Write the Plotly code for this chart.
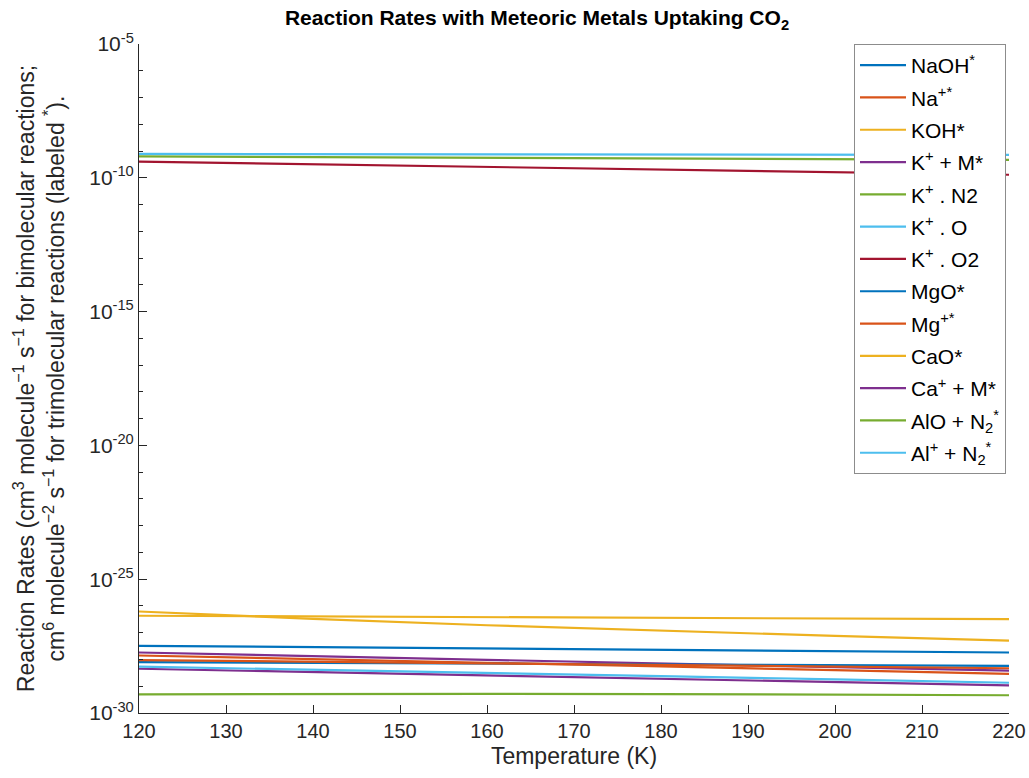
import plotly.graph_objects as go

# Temperatures (K) at which rates were sampled
temperature = [120, 140, 160, 180, 200, 220]

# Rate coefficients for each reaction
naoh = [3.24e-28, 2.88e-28, 2.57e-28, 2.29e-28, 2.04e-28, 1.82e-28]
na_plus = [1.41e-28, 1.05e-28, 7.6e-29, 5.5e-29, 4.0e-29, 2.9e-29]
koh = [6.2e-27, 3.3e-27, 1.9e-27, 1.17e-27, 7.6e-28, 5.1e-28]
k_plus_m = [1.82e-28, 1.32e-28, 9.5e-29, 7.1e-29, 5.1e-29, 3.8e-29]
k_plus_n2 = [6.3e-10, 6.0e-10, 5.6e-10, 5.4e-10, 5.0e-10, 4.7e-10]
k_plus_o = [7.8e-10, 7.6e-10, 7.5e-10, 7.4e-10, 7.3e-10, 7.2e-10]
k_plus_o2 = [4.0e-10, 3.2e-10, 2.5e-10, 2.0e-10, 1.6e-10, 1.3e-10]
mgo = [7.9e-29, 7.4e-29, 6.9e-29, 6.5e-29, 6.2e-29, 5.8e-29]
mg_plus = [9.5e-29, 8.3e-29, 7.2e-29, 6.2e-29, 5.4e-29, 4.7e-29]
cao = [4.3e-27, 4.1e-27, 3.9e-27, 3.6e-27, 3.5e-27, 3.2e-27]
ca_plus_m = [4.5e-29, 3.4e-29, 2.5e-29, 1.9e-29, 1.45e-29, 1.07e-29]
alo_n2 = [5.0e-30, 5.2e-30, 5.2e-30, 5.1e-30, 4.9e-30, 4.6e-30]
al_plus_n2 = [5.4e-29, 4.2e-29, 3.2e-29, 2.4e-29, 1.8e-29, 1.35e-29]

series_names = [
    "NaOH<sup>*</sup>",
    "Na<sup>+*</sup>",
    "KOH*",
    "K<sup>+</sup> + M*",
    "K<sup>+</sup> . N2",
    "K<sup>+</sup> . O",
    "K<sup>+</sup> . O2",
    "MgO*",
    "Mg<sup>+*</sup>",
    "CaO*",
    "Ca<sup>+</sup> + M*",
    "AlO + N<sub>2</sub><sup>*</sup>",
    "Al<sup>+</sup> + N<sub>2</sub><sup>*</sup>",
]
series_values = [naoh, na_plus, koh, k_plus_m, k_plus_n2, k_plus_o, k_plus_o2,
                 mgo, mg_plus, cao, ca_plus_m, alo_n2, al_plus_n2]

# Default MATLAB colour order, cycled
palette = ["#0072BD", "#D95319", "#EDB120", "#7E2F8E", "#77AC30", "#4DBEEE", "#A2142F"]

x_ticks = [120, 130, 140, 150, 160, 170, 180, 190, 200, 210, 220]
y_major = [-30, -25, -20, -15, -10, -5]
y_minor = list(range(-30, -4))

fig = go.Figure()
for i, (name, vals) in enumerate(zip(series_names, series_values)):
    fig.add_trace(go.Scatter(
        x=temperature, y=vals, mode="lines", name=name, legendgroup=f"g{i}",
        line=dict(color=palette[i % len(palette)], width=2.2),
    ))

axis_color = "#262626"
font_family = "Liberation Sans, Arial, sans-serif"

fig.update_layout(
    width=1029, height=778,
    margin=dict(l=139, r=20, t=44, b=65),
    paper_bgcolor="white", plot_bgcolor="white",
    font=dict(family=font_family, color=axis_color, size=20),
    title=dict(
        text="<b>Reaction Rates with Meteoric Metals Uptaking CO<sub>2</sub></b>",
        x=537 / 1029, xanchor="center", y=0.977, yanchor="middle",
        font=dict(size=21, color="black"),
    ),
    showlegend=True,
    legend=dict(
        x=(854 - 139) / 870, xanchor="left", y=1.0, yanchor="top",
        bgcolor="white", bordercolor="#8c8c8c", borderwidth=1,
        font=dict(size=21, color="black"),
        tracegroupgap=2, itemwidth=46,
    ),
)

fig.update_xaxes(
    range=[120, 220], tickvals=x_ticks,
    showgrid=False, zeroline=False, automargin=False,
    showline=True, linecolor=axis_color, linewidth=1,
    ticks="inside", ticklen=8, tickcolor=axis_color,
    tickfont=dict(size=20, color=axis_color),
    title=dict(text="Temperature (K)", font=dict(size=23, color=axis_color), standoff=6),
)

fig.update_yaxes(
    type="log", range=[-30, -5],
    tickvals=[10.0 ** e for e in y_major],
    ticktext=["10<sup>%d</sup>" % e for e in y_major],
    showgrid=False, zeroline=False, automargin=False,
    showline=True, linecolor=axis_color, linewidth=1,
    ticks="inside", ticklen=8, tickcolor=axis_color,
    tickfont=dict(size=21, color=axis_color),
    minor=dict(tickvals=[10.0 ** e for e in y_minor], ticks="inside",
               ticklen=4, tickcolor=axis_color, showgrid=False),
    title=dict(
        text="Reaction Rates (cm<sup>3</sup> molecule<sup>−1</sup> s<sup>−1</sup> for bimolecular reactions;"
             "<br>cm<sup>6</sup> molecule<sup>−2</sup> s<sup>−1</sup> for trimolecular reactions (labeled <sup>*</sup>).",
        font=dict(size=23, color=axis_color), standoff=18,
    ),
)

fig.write_html("out.html")
